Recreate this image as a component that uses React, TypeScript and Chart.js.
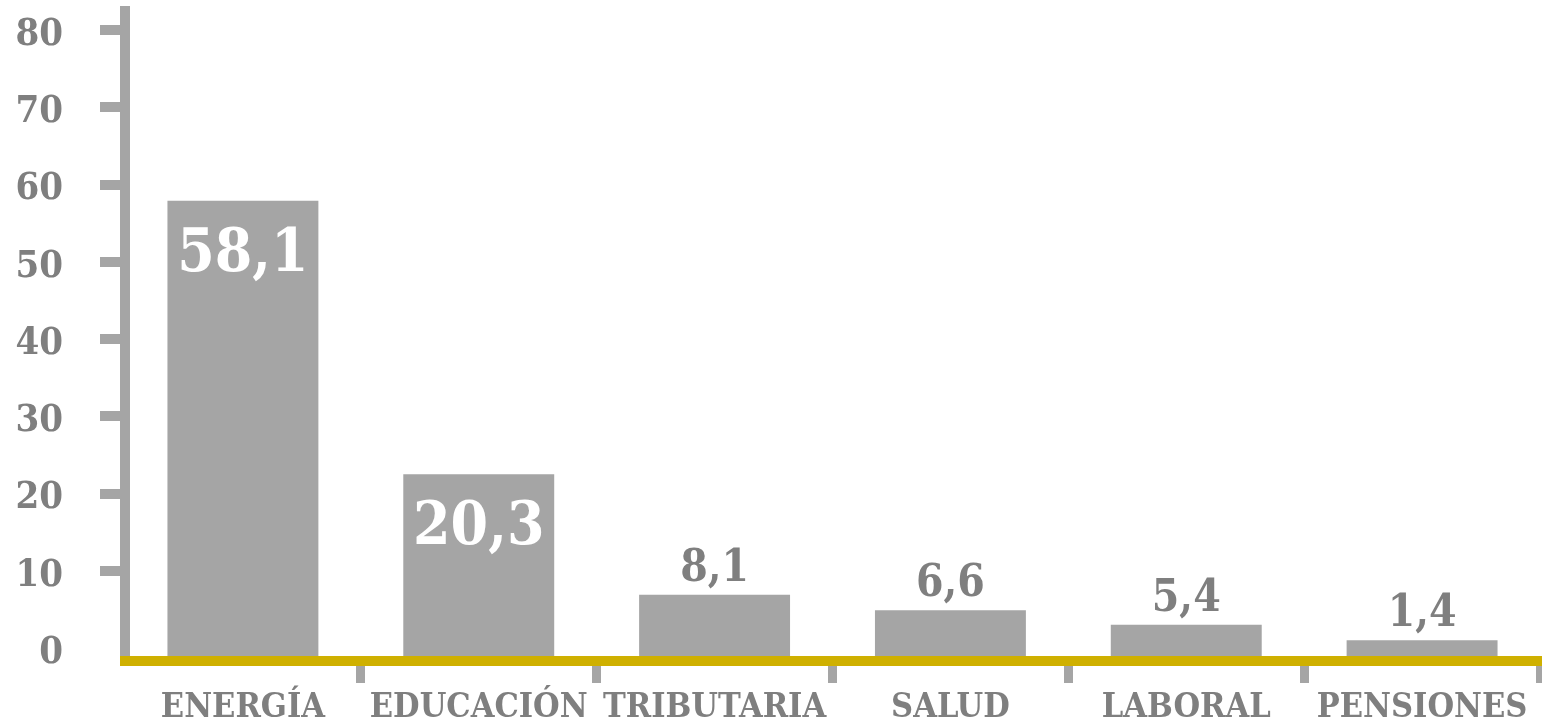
import React, { useEffect, useRef } from "react";
import { Chart, registerables } from "chart.js";

Chart.register(...registerables);

// ---- data ----
const categories = ["ENERGÍA", "EDUCACIÓN", "TRIBUTARIA", "SALUD", "LABORAL", "PENSIONES"];
// bar heights as drawn in the picture
const barHeights = [57.9, 22.5, 6.9, 4.9, 3.0, 1.0];
// value labels as printed
const valueLabels = ["58,1", "20,3", "8,1", "6,6", "5,4", "1,4"];
const yTickValues = [0, 10, 20, 30, 40, 50, 60, 70, 80];

const Y_MIN = -1.68;
const Y_MAX = 82.46;

const FONT = "'DejaVu Serif Condensed', 'DejaVu Serif', serif";
const GRAY_BAR = "#a5a5a5";
const GRAY_TEXT = "#7f7f7f";
const GOLD = "#cfb000";

const valueLabelPlugin = {
  id: "valueLabels",
  afterDatasetsDraw(chart: any) {
    const meta = chart.getDatasetMeta(0);
    const yScale = chart.scales.y;
    const ctx = chart.ctx;
    meta.data.forEach((bar: any, i: number) => {
      const top = yScale.getPixelForValue(barHeights[i]);
      const inside = barHeights[i] > 15;
      ctx.save();
      ctx.textAlign = "center";
      ctx.textBaseline = "alphabetic";
      if (inside) {
        ctx.font = `bold 60px ${FONT}`;
        ctx.fillStyle = "#ffffff";
        ctx.fillText(valueLabels[i], bar.x, top + 70);
      } else {
        ctx.font = `bold 44px ${FONT}`;
        ctx.fillStyle = GRAY_TEXT;
        ctx.fillText(valueLabels[i], bar.x, top - 14);
      }
      ctx.restore();
    });
  },
};

export default function App() {
  const canvasRef = useRef<HTMLCanvasElement | null>(null);

  useEffect(() => {
    if (!canvasRef.current) return;
    const chart = new Chart(canvasRef.current, {
      type: "bar",
      data: {
        labels: categories,
        datasets: [
          {
            data: barHeights.map((v) => [Y_MIN, v]) as any,
            backgroundColor: GRAY_BAR,
            borderWidth: 0,
            barPercentage: 0.64,
            categoryPercentage: 1,
          },
        ],
      },
      options: {
        responsive: false,
        animation: false,
        layout: { padding: { top: 11, right: 2, left: 0, bottom: 0 } },
        plugins: {
          legend: { display: false },
          tooltip: { enabled: false },
        },
        scales: {
          x: {
            offset: true,
            grid: {
              offset: true,
              drawOnChartArea: false,
              tickLength: 22,
              lineWidth: 9,
              color: (c: any) =>
                c.index === 0 || c.index === categories.length ? "rgba(0,0,0,0)" : GRAY_BAR,
            },
            border: { display: true, color: GOLD, width: 10, z: 2 },
            ticks: {
              color: GRAY_TEXT,
              font: { family: FONT, size: 34, weight: "bold" },
              padding: 5,
              autoSkip: false,
              maxRotation: 0,
            },
            afterFit: (s: any) => {
              s.height = 61;
              s.paddingLeft = 0;
              s.paddingRight = 0;
            },
          },
          y: {
            min: Y_MIN,
            max: Y_MAX,
            afterBuildTicks: (s: any) => {
              s.ticks = yTickValues.map((v) => ({ value: v }));
            },
            grid: {
              drawOnChartArea: false,
              tickLength: 25,
              lineWidth: 10,
              color: (c: any) => (c.tick && c.tick.value === 0 ? "rgba(0,0,0,0)" : GRAY_BAR),
            },
            border: { display: true, color: GRAY_BAR, width: 10, z: 1 },
            ticks: {
              color: GRAY_TEXT,
              font: { family: FONT, size: 38, weight: "bold" },
              padding: 37,
              labelOffset: 5,
              autoSkip: false,
            },
            afterFit: (s: any) => {
              s.width = 125;
              s.paddingTop = 0;
              s.paddingBottom = 0;
            },
          },
        },
      },
      plugins: [valueLabelPlugin],
    });
    return () => chart.destroy();
  }, []);

  return (
    <div style={{ position: "fixed", left: 0, top: 0, width: 1542, height: 722, background: "#fff" }}>
      <canvas ref={canvasRef} width={1542} height={722} style={{ display: "block" }} />
    </div>
  );
}
